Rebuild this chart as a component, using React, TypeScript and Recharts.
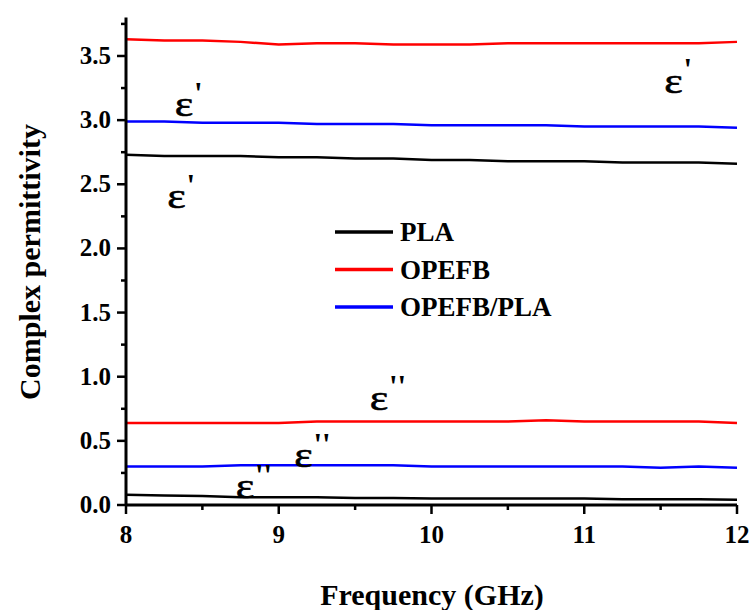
import React from "react";
import { LineChart, Line, XAxis, YAxis, ReferenceDot } from "recharts";

const freq = [8, 8.25, 8.5, 8.75, 9, 9.25, 9.5, 9.75, 10, 10.25, 10.5, 10.75, 11, 11.25, 11.5, 11.75, 12];
const opefbReal = [3.63, 3.62, 3.62, 3.61, 3.59, 3.6, 3.6, 3.59, 3.59, 3.59, 3.6, 3.6, 3.6, 3.6, 3.6, 3.6, 3.61];
const blendReal = [2.99, 2.99, 2.98, 2.98, 2.98, 2.97, 2.97, 2.97, 2.96, 2.96, 2.96, 2.96, 2.95, 2.95, 2.95, 2.95, 2.94];
const plaReal = [2.73, 2.72, 2.72, 2.72, 2.71, 2.71, 2.7, 2.7, 2.69, 2.69, 2.68, 2.68, 2.68, 2.67, 2.67, 2.67, 2.66];
const opefbImag = [0.64, 0.64, 0.64, 0.64, 0.64, 0.65, 0.65, 0.65, 0.65, 0.65, 0.65, 0.66, 0.65, 0.65, 0.65, 0.65, 0.64];
const blendImag = [0.3, 0.3, 0.3, 0.31, 0.31, 0.31, 0.31, 0.31, 0.3, 0.3, 0.3, 0.3, 0.3, 0.3, 0.29, 0.3, 0.29];
const plaImag = [0.08, 0.075, 0.07, 0.06, 0.06, 0.06, 0.055, 0.055, 0.05, 0.05, 0.05, 0.05, 0.05, 0.045, 0.045, 0.045, 0.04];

const xTicks = [8, 8.5, 9, 9.5, 10, 10.5, 11, 11.5, 12];
const yTicks = [0, 0.25, 0.5, 0.75, 1, 1.25, 1.5, 1.75, 2, 2.25, 2.5, 2.75, 3, 3.25, 3.5, 3.75];

const legendItems = [
  { name: "PLA", color: "#000000" },
  { name: "OPEFB", color: "#ff0000" },
  { name: "OPEFB/PLA", color: "#0000ff" },
];

const annotations = [
  { x: 8.38, y: 3.098, primes: "'" },
  { x: 8.331, y: 2.381, primes: "'" },
  { x: 11.584, y: 3.278, primes: "'" },
  { x: 9.656, y: 0.807, primes: "''" },
  { x: 9.162, y: 0.362, primes: "''" },
  { x: 8.779, y: 0.117, primes: "''" },
];

const data = freq.map((f, i) => ({
  f,
  plaR: plaReal[i],
  opR: opefbReal[i],
  blR: blendReal[i],
  plaI: plaImag[i],
  opI: opefbImag[i],
  blI: blendImag[i],
}));

const FONT = "Liberation Serif, Times New Roman, serif";

const XTick = (props: any) => {
  const { x, y, payload } = props;
  const v = payload.value;
  const major = Number.isInteger(v);
  return (
    <g>
      <line x1={x} x2={x} y1={y} y2={y + (major ? 9 : 5)} stroke="#000" strokeWidth={2.5} />
      {major && (
        <text x={x} y={y + 38} textAnchor="middle" fontFamily={FONT} fontWeight="bold" fontSize={25} fill="#000">
          {v}
        </text>
      )}
    </g>
  );
};

const YTick = (props: any) => {
  const { x, y, payload } = props;
  const v = payload.value;
  const major = Math.abs(v * 2 - Math.round(v * 2)) < 1e-6;
  return (
    <g>
      <line x1={x} x2={x - (major ? 9 : 5)} y1={y} y2={y} stroke="#000" strokeWidth={2.5} />
      {major && (
        <text x={x - 15} y={y + 8} textAnchor="end" fontFamily={FONT} fontWeight="bold" fontSize={25} fill="#000">
          {v.toFixed(1)}
        </text>
      )}
    </g>
  );
};

const AnnLabel = (primes: string) => (props: any) => {
  const vb = props.viewBox || {};
  const cx = vb.x ?? vb.cx;
  const cy = vb.y ?? vb.cy;
  return (
    <g transform={`translate(${cx},${cy})`}>
      <text x={0} y={9.2} transform="scale(1.1,0.9)" textAnchor="middle" fontFamily={FONT} fontSize={40} fill="#000" stroke="#000" strokeWidth={0.6}>
        ε
      </text>
      <text x={10} y={-4} fontFamily={FONT} fontWeight="bold" fontSize={31} fill="#000">
        {primes}
      </text>
    </g>
  );
};

export default function App() {
  return (
    <div style={{ position: "absolute", left: 0, top: 0, width: 750, height: 610, background: "#fff" }}>
      <LineChart
        width={750}
        height={610}
        data={data}
        margin={{ top: 17.5, right: 13, bottom: 0, left: 0 }}
      >
        <XAxis
          dataKey="f"
          type="number"
          domain={[8, 12]}
          ticks={xTicks}
          interval={0}
          tick={<XTick />}
          tickLine={false}
          tickSize={0}
          tickMargin={0}
          axisLine={{ stroke: "#000", strokeWidth: 3 }}
          height={105}
          label={{
            content: () => (
              <text x={432} y={605} textAnchor="middle" fontFamily={FONT} fontWeight="bold" fontSize={30} fill="#000">
                Frequency (GHz)
              </text>
            ),
          }}
        />
        <XAxis xAxisId="top" orientation="top" dataKey="f" type="number" domain={[8, 12]} tick={false} tickLine={false} height={0} axisLine={{ stroke: "#000", strokeWidth: 2.5 }} />
        <YAxis
          type="number"
          domain={[0, 3.8]}
          ticks={yTicks}
          interval={0}
          tick={<YTick />}
          tickLine={false}
          tickSize={0}
          tickMargin={0}
          width={126}
          axisLine={{ stroke: "#000", strokeWidth: 3 }}
          label={{
            content: () => (
              <text x={40} y={262} transform="rotate(-90 40 262)" textAnchor="middle" fontFamily={FONT} fontWeight="bold" fontSize={30} fill="#000">
                Complex permittivity
              </text>
            ),
          }}
        />
        <YAxis yAxisId="right" orientation="right" domain={[0, 3.8]} tick={false} tickLine={false} width={0} axisLine={{ stroke: "#000", strokeWidth: 2.5 }} />
        <Line dataKey="opR" stroke="#ff0000" strokeWidth={2.5} dot={false} isAnimationActive={false} />
        <Line dataKey="blR" stroke="#0000ff" strokeWidth={2.5} dot={false} isAnimationActive={false} />
        <Line dataKey="plaR" stroke="#000000" strokeWidth={2.5} dot={false} isAnimationActive={false} />
        <Line dataKey="opI" stroke="#ff0000" strokeWidth={2.5} dot={false} isAnimationActive={false} />
        <Line dataKey="blI" stroke="#0000ff" strokeWidth={2.5} dot={false} isAnimationActive={false} />
        <Line dataKey="plaI" stroke="#000000" strokeWidth={2.5} dot={false} isAnimationActive={false} />
        {annotations.map((a, i) => (
          <ReferenceDot key={i} x={a.x} y={a.y} r={0} fill="none" stroke="none" label={{ content: AnnLabel(a.primes) }} />
        ))}
      </LineChart>
      <svg style={{ position: "absolute", left: 0, top: 0 }} width={750} height={610} pointerEvents="none">
        {legendItems.map((it, i) => (
          <g key={it.name}>
            <line x1={335} x2={393} y1={232 + i * 37.5} y2={232 + i * 37.5} stroke={it.color} strokeWidth={3.5} />
            <text x={400} y={232 + i * 37.5 + 9} fontFamily={FONT} fontWeight="bold" fontSize={27} fill="#000">
              {it.name}
            </text>
          </g>
        ))}
      </svg>
    </div>
  );
}
